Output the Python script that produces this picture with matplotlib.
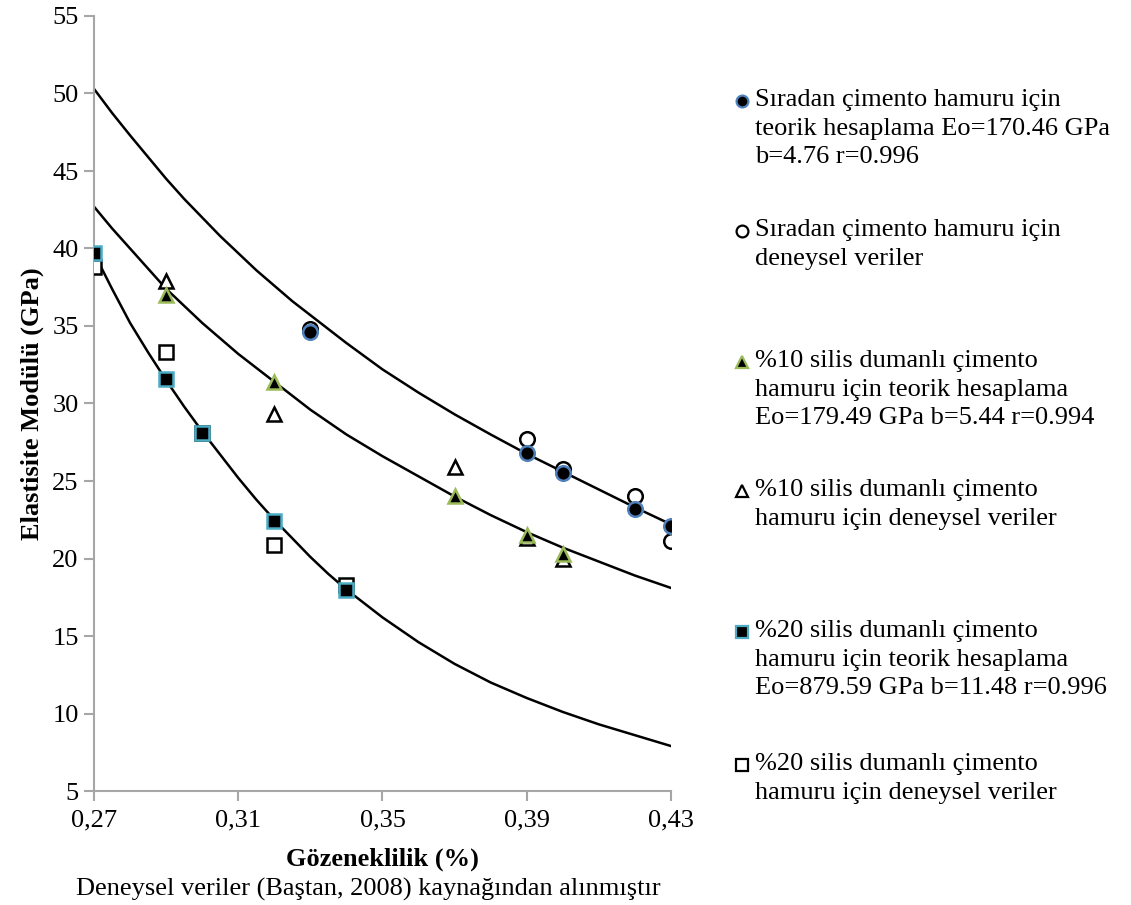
import numpy as np
import matplotlib
matplotlib.use("Agg")
import matplotlib.pyplot as plt

plt.rcParams['font.family'] = ['Liberation Serif', 'DejaVu Serif']

# Porosity (x) values and elastic modulus (GPa)
x_ord = [0.33, 0.39, 0.40, 0.42, 0.43]
E_ord_theo = [34.6, 26.8, 25.5, 23.2, 22.1]
E_ord_exp = [34.8, 27.7, 25.8, 24.0, 21.1]

x_sf10 = [0.29, 0.32, 0.37, 0.39, 0.40]
E_sf10_theo = [37.0, 31.4, 24.0, 21.5, 20.3]
E_sf10_exp = [37.9, 29.3, 25.9, 21.3, 20.0]

x_sf20 = [0.27, 0.29, 0.30, 0.32, 0.34]
E_sf20_theo = [39.7, 31.6, 28.1, 22.4, 18.0]
E_sf20_exp = [38.8, 33.3, 28.1, 20.9, 18.3]

# Model curves
x_curve = [0.27, 0.275, 0.28, 0.285, 0.29, 0.295, 0.30, 0.305, 0.31, 0.315,
           0.32, 0.325, 0.33, 0.335, 0.34, 0.35, 0.36, 0.37, 0.38, 0.39,
           0.40, 0.41, 0.42, 0.43]
curve_ord = [50.3, 48.75, 47.3, 45.9, 44.5, 43.2, 42.0, 40.8, 39.7, 38.6,
             37.6, 36.6, 35.7, 34.8, 33.9, 32.2, 30.7, 29.3, 28.0, 26.75,
             25.6, 24.45, 23.3, 22.2]
curve_sf10 = [42.7, 41.3, 40.0, 38.7, 37.4, 36.3, 35.2, 34.2, 33.2, 32.3,
              31.4, 30.5, 29.6, 28.8, 28.0, 26.6, 25.3, 24.0, 22.8, 21.7,
              20.7, 19.8, 18.9, 18.1]
curve_sf20 = [39.7, 37.4, 35.2, 33.3, 31.5, 29.8, 28.2, 26.7, 25.2, 23.8,
              22.5, 21.3, 20.1, 19.0, 18.0, 16.2, 14.6, 13.2, 12.0, 11.0,
              10.1, 9.3, 8.6, 7.9]

x_ticks = [0.27, 0.31, 0.35, 0.39, 0.43]
x_ticklabels = ["0,27", "0,31", "0,35", "0,39", "0,43"]
y_ticks = [5, 10, 15, 20, 25, 30, 35, 40, 45, 50, 55]

legend_labels = [
    "Sıradan çimento hamuru için\nteorik hesaplama Eo=170.46 GPa\nb=4.76 r=0.996",
    "Sıradan çimento hamuru için\ndeneysel veriler",
    "%10 silis dumanlı çimento\nhamuru için teorik hesaplama\nEo=179.49 GPa b=5.44 r=0.994",
    "%10 silis dumanlı çimento\nhamuru için deneysel veriler",
    "%20 silis dumanlı çimento\nhamuru için teorik hesaplama\nEo=879.59 GPa b=11.48 r=0.996",
    "%20 silis dumanlı çimento\nhamuru için deneysel veriler",
]

W, H = 1131, 905
fig = plt.figure(figsize=(W / 100, H / 100), dpi=100)
ax = fig.add_axes([94 / W, 1 - 791 / H, (671 - 94) / W, (791 - 16) / H])

FS = 19
blue = "#4F81BD"
green = "#9BBB59"
teal = "#4BACC6"
spine_c = "#A6A6A6"

for yc in (curve_ord, curve_sf10, curve_sf20):
    ax.plot(x_curve, yc, color="black", lw=1.8, zorder=2,
            solid_joinstyle='round')

ms = 10.5
mew = 1.8
ax.plot(x_ord, E_ord_exp, 'o', ms=ms, mfc="white", mec="black", mew=mew, ls='none', zorder=3)
ax.plot(x_sf10, E_sf10_exp, '^', ms=ms, mfc="white", mec="black", mew=mew, ls='none', zorder=3)
ax.plot(x_sf20, E_sf20_exp, 's', ms=ms, mfc="white", mec="black", mew=mew, ls='none', zorder=3)
ax.plot(x_ord, E_ord_theo, 'o', ms=ms, mfc="black", mec=blue, mew=mew, ls='none', zorder=4)
ax.plot(x_sf10, E_sf10_theo, '^', ms=ms, mfc="black", mec=green, mew=mew, ls='none', zorder=4)
ax.plot(x_sf20, E_sf20_theo, 's', ms=ms, mfc="black", mec=teal, mew=mew, ls='none', zorder=4)

ax.set_xlim(0.27, 0.43)
ax.set_ylim(5, 55)
ax.set_xticks(x_ticks)
ax.set_xticklabels(x_ticklabels)
ax.set_yticks(y_ticks)
ax.tick_params(axis='both', direction='out', length=7, width=1.5, color=spine_c,
               labelsize=FS)
ax.tick_params(axis='y', pad=4)
ax.tick_params(axis='x', pad=6)
for s in ("top", "right"):
    ax.spines[s].set_visible(False)
for s in ("left", "bottom"):
    ax.spines[s].set_color(spine_c)
    ax.spines[s].set_linewidth(1.5)
ax.patch.set_alpha(0)

ax.set_ylabel("Elastisite Modülü (GPa)", fontsize=FS, fontweight='bold', labelpad=6)
ax.set_xlabel("Gözeneklilik (%)", fontsize=FS, fontweight='bold', labelpad=12)

# Overlay in pixel coordinates for the caption and the legend column
ov = fig.add_axes([0, 0, 1, 1], zorder=-1)
ov.set_xlim(0, W)
ov.set_ylim(H, 0)
ov.axis('off')

ov.text(368, 889, "Deneysel veriler (Baştan, 2008) kaynağından alınmıştır",
        fontsize=FS, ha='center', va='center')

leg_y = [100, 230, 361, 490, 631, 764]
leg_marker = ['o', 'o', '^', '^', 's', 's']
leg_fc = ["black", "white", "black", "white", "black", "white"]
leg_ec = [blue, "black", green, "black", teal, "black"]
line_h = 28.5
for lab, y, m, fc, ec in zip(legend_labels, leg_y, leg_marker, leg_fc, leg_ec):
    ov.plot([742], [y + 1], m, ms=8.5, mfc=fc, mec=ec, mew=1.6)
    for i, line in enumerate(lab.split("\n")):
        ov.text(755, y + i * line_h, line, fontsize=FS, ha='left', va='center')

fig.savefig("out.png", dpi=100)
